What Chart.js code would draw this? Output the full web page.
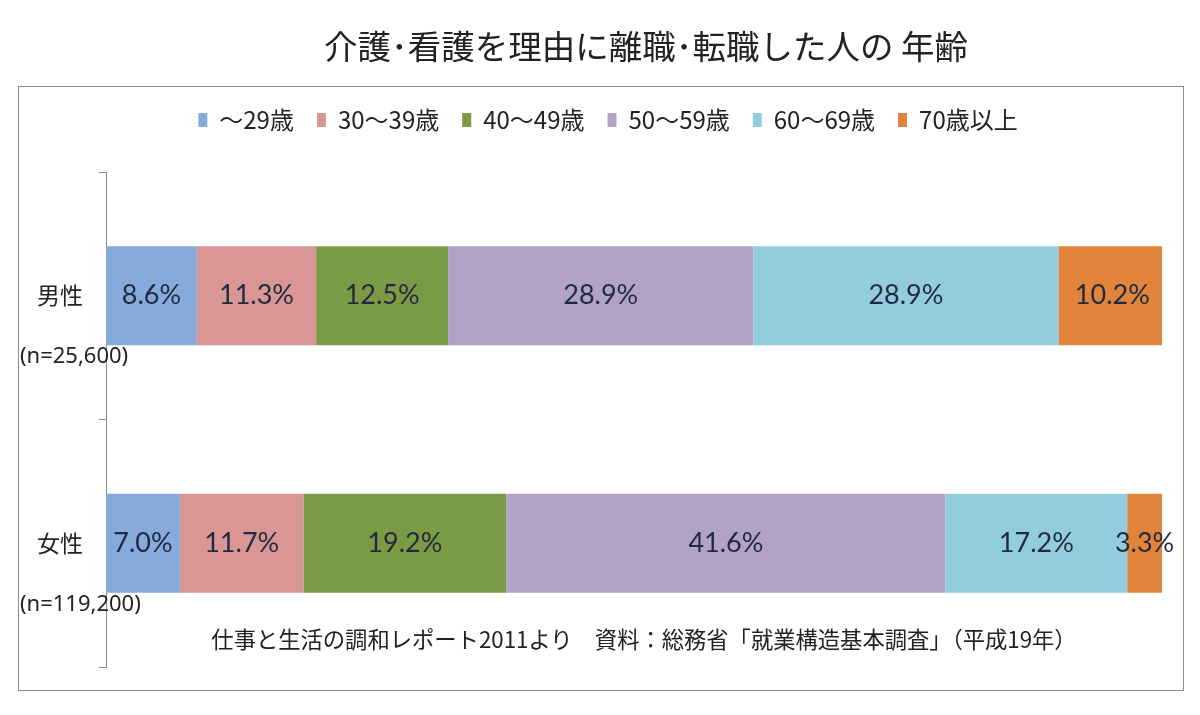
<!DOCTYPE html>
<html>
<head>
<meta charset="utf-8">
<script src="https://cdn.jsdelivr.net/npm/chart.js@4"></script>
<style>
  body { margin: 0; background: #fff; }
  #wrap { position: relative; width: 1200px; height: 715px; }
  #frame { position: absolute; left: 18px; top: 86px; width: 1164px; height: 603px; border: 1px solid #8c8c8c; }
  #chart { position: absolute; left: 0; top: 0; }
  #title { position: absolute; left: 646px; top: 20px; transform: translateX(-50%); white-space: nowrap;
           font: 33.5px "Noto Sans CJK JP"; color: #222; }
  #note { position: absolute; left: 644px; top: 622px; transform: translateX(-50%); white-space: nowrap;
          font: 22.3px "Noto Sans CJK JP"; color: #222; }
</style>
</head>
<body>
<div id="wrap">
  <div id="frame"></div>
  <canvas id="chart" width="1200" height="715"></canvas>
  <div id="title">介護･看護を理由に離職･転職した人の 年齢</div>
  <div id="note">仕事と生活の調和レポート2011より　資料：総務省「就業構造基本調査」（平成19年）</div>
</div>
<script>
// --- Data ---
const groups = ['男性', '女性'];
const sampleSizes = ['(n=25,600)', '(n=119,200)'];
const ageBands = ['～29歳', '30～39歳', '40～49歳', '50～59歳', '60～69歳', '70歳以上'];
const under29 = [8.6, 7.0];
const age30s = [11.3, 11.7];
const age40s = [12.5, 19.2];
const age50s = [28.9, 41.6];
const age60s = [28.9, 17.2];
const over70 = [10.2, 3.3];
const bandColors = ['#86aadc', '#d99694', '#7a9a44', '#b3a2c8', '#93cddd', '#e3843c'];

// draw the % value in the middle of each segment
const segmentLabels = {
    id: 'segmentLabels',
    afterDatasetsDraw(chart) {
        const ctx = chart.ctx;
        ctx.save();
        ctx.font = '27px Lato';
        ctx.fillStyle = '#1f2a40';
        ctx.textAlign = 'center';
        ctx.textBaseline = 'middle';
        chart.data.datasets.forEach((ds, i) => {
            chart.getDatasetMeta(i).data.forEach((bar, j) => {
                const x = (bar.x + bar.base) / 2;
                ctx.fillText(ds.data[j].toFixed(1) + '%', x, bar.y);
            });
        });
        ctx.restore();
    }
};

// sample size under each category label
const sampleLabels = {
    id: 'sampleLabels',
    afterDraw(chart) {
        const ctx = chart.ctx;
        const yScale = chart.scales.y;
        ctx.save();
        ctx.font = '22px "Noto Sans"';
        ctx.fillStyle = '#222';
        ctx.textAlign = 'left';
        ctx.textBaseline = 'middle';
        sampleSizes.forEach((txt, j) => {
            ctx.fillText(txt, 20, yScale.getPixelForValue(j) + 61);
        });
        ctx.restore();
    }
};

// more room between legend and bars, and nudge the legend a bit right
const legendTweak = {
    id: 'legendTweak',
    beforeInit(chart) {
        const origFit = chart.legend.fit;
        chart.legend.fit = function () {
            origFit.bind(chart.legend)();
            this.height += 30;
        };
    },
    afterLayout(chart) {
        chart.legend.left += 14;
        chart.legend.right += 14;
    }
};

const seriesValues = [under29, age30s, age40s, age50s, age60s, over70];

new Chart(document.getElementById('chart'), {
    type: 'bar',
    data: {
        labels: groups,
        datasets: seriesValues.map((vals, i) => ({
            label: ageBands[i],
            data: vals,
            backgroundColor: bandColors[i],
            borderWidth: 0,
            barPercentage: 0.8,
            categoryPercentage: 0.5
        }))
    },
    options: {
        indexAxis: 'y',
        responsive: false,
        animation: false,
        layout: { padding: { left: 26, right: 38, top: 85, bottom: 48 } },
        scales: {
            x: { stacked: true, min: 0, max: 100, display: false },
            y: {
                stacked: true,
                afterFit(scale) { scale.width = 80; },
                grid: { drawOnChartArea: false, tickLength: 7, color: '#8c8c8c', offset: true },
                border: { color: '#8c8c8c' },
                ticks: { font: { family: 'Noto Sans CJK JP', size: 23 }, color: '#222', padding: 16 }
            }
        },
        plugins: {
            legend: {
                position: 'top',
                labels: {
                    boxWidth: 9,
                    boxHeight: 14,
                    padding: 23,
                    color: '#222',
                    font: { family: 'Noto Sans CJK JP', size: 24 }
                }
            },
            tooltip: { enabled: false },
            title: { display: false }
        }
    },
    plugins: [segmentLabels, sampleLabels, legendTweak]
});
</script>
</body>
</html>
